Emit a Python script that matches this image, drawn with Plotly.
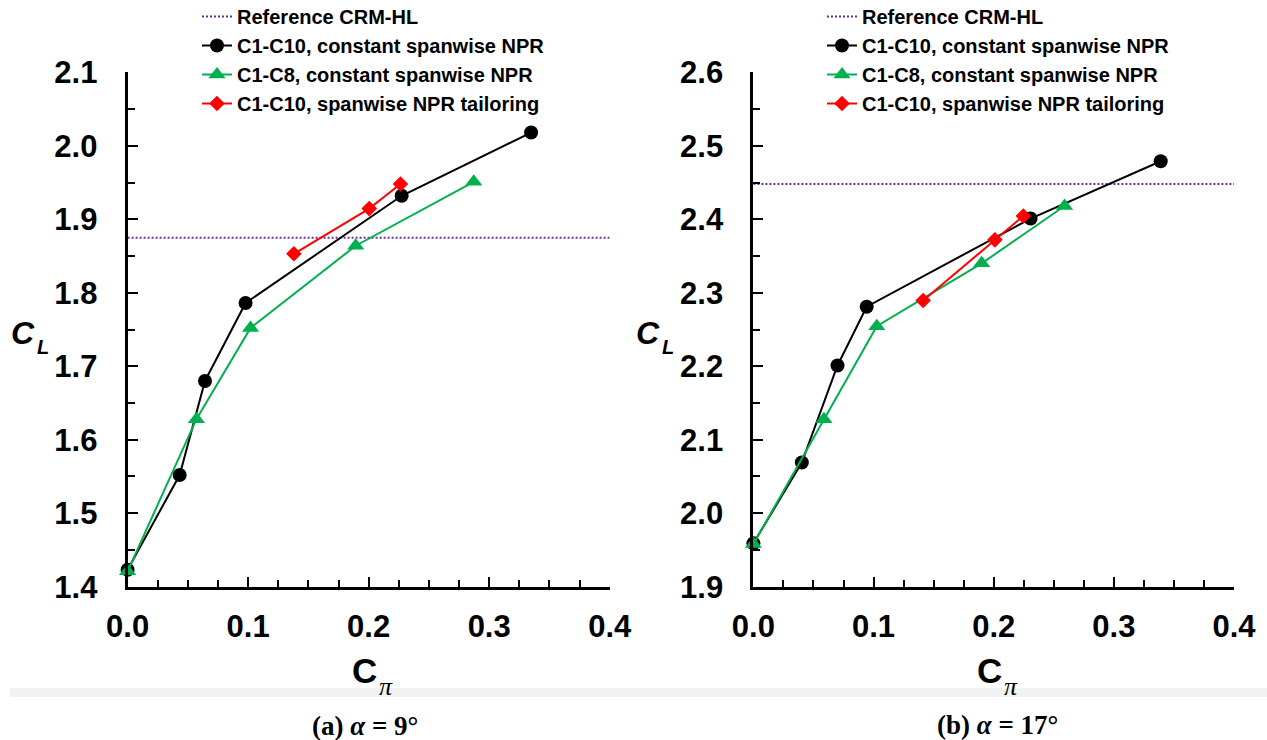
import plotly.graph_objects as go

# ---------------- data ----------------
ref_label = "Reference CRM-HL"
s1_label = "C1-C10, constant spanwise NPR"
s2_label = "C1-C8, constant spanwise NPR"
s3_label = "C1-C10, spanwise NPR tailoring"

x_range = [0.0, 0.4]

# (a) alpha = 9 deg
ref_cl_a = 1.875
c10_x_a = [0.0, 0.0432, 0.0642, 0.0979, 0.2274, 0.3348]
c10_y_a = [1.423, 1.552, 1.680, 1.786, 1.932, 2.018]
c8_x_a = [0.0, 0.0571, 0.102, 0.1893, 0.2872]
c8_y_a = [1.421, 1.628, 1.752, 1.864, 1.951]
tail_x_a = [0.138, 0.2005, 0.2264]
tail_y_a = [1.853, 1.9145, 1.948]
y_range_a = [1.4, 2.1]

# (b) alpha = 17 deg
ref_cl_b = 2.448
c10_x_b = [0.0, 0.0403, 0.070, 0.0943, 0.2307, 0.339]
c10_y_b = [1.959, 2.069, 2.201, 2.281, 2.401, 2.479]
c8_x_b = [0.0, 0.0587, 0.1027, 0.190, 0.259]
c8_y_b = [1.958, 2.128, 2.2545, 2.340, 2.418]
tail_x_b = [0.1413, 0.201, 0.2247]
tail_y_b = [2.2895, 2.372, 2.4045]
y_range_b = [1.9, 2.6]

x_ticks = [0.0, 0.1, 0.2, 0.3, 0.4]

# ---------------- styles ----------------
W, H = 1267, 740
PURPLE = "#7030A0"
GREEN = "#00B050"
RED = "#FF0000"
SANS = "Liberation Sans, Arial, sans-serif"
SERIF = "Liberation Serif, Times New Roman, serif"

fig = go.Figure()


def add_panel(xa, ya, leg, ref, cx, cy, gx, gy, rx, ry):
    fig.add_trace(go.Scatter(
        x=x_range, y=[ref, ref], mode="lines", name=ref_label,
        line=dict(color=PURPLE, width=2, dash="2px,2px"),
        xaxis=xa, yaxis=ya, legend=leg, cliponaxis=False))
    fig.add_trace(go.Scatter(
        x=cx, y=cy, mode="lines+markers", name=s1_label,
        line=dict(color="black", width=2),
        marker=dict(symbol="circle", size=14, color="black"),
        xaxis=xa, yaxis=ya, legend=leg, cliponaxis=False))
    fig.add_trace(go.Scatter(
        x=gx, y=gy, mode="lines+markers", name=s2_label,
        line=dict(color=GREEN, width=2),
        marker=dict(symbol="triangle-up", size=15, color=GREEN),
        xaxis=xa, yaxis=ya, legend=leg, cliponaxis=False))
    fig.add_trace(go.Scatter(
        x=rx, y=ry, mode="lines+markers", name=s3_label,
        line=dict(color=RED, width=2),
        marker=dict(symbol="diamond", size=12, color=RED),
        xaxis=xa, yaxis=ya, legend=leg, cliponaxis=False))


add_panel("x", "y", "legend", ref_cl_a, c10_x_a, c10_y_a, c8_x_a, c8_y_a, tail_x_a, tail_y_a)
add_panel("x2", "y2", "legend2", ref_cl_b, c10_x_b, c10_y_b, c8_x_b, c8_y_b, tail_x_b, tail_y_b)

tickfont = dict(family=SANS, size=31, color="black", weight="bold")


def xaxis_cfg(domain, anchor):
    return dict(
        domain=domain, range=x_range, tickvals=x_ticks, tickformat=".1f", anchor=anchor,
        ticks="inside", ticklen=10, tickwidth=2, tickcolor="black",
        minor=dict(dtick=0.025, tick0=0, ticks="inside", ticklen=7, tickwidth=2, tickcolor="black"),
        showline=True, linewidth=3, linecolor="black", automargin=False,
        showgrid=False, zeroline=False, tickfont=tickfont, ticklabelstandoff=10)


def yaxis_cfg(domain, rng, anchor):
    return dict(
        domain=domain, range=rng, dtick=0.1, tick0=rng[0], tickformat=".1f",
        ticks="inside", ticklen=10, tickwidth=2, tickcolor="black",
        minor=dict(dtick=0.05, tick0=rng[0], ticks="inside", ticklen=7, tickwidth=2, tickcolor="black"),
        showline=True, linewidth=3, linecolor="black", anchor=anchor, automargin=False,
        showgrid=False, zeroline=False, tickfont=tickfont, ticklabelstandoff=21)


ydom = [1 - 586.7 / H, 1 - 72.3 / H]
legfont = dict(family=SANS, size=20, color="black", weight="bold")

fig.update_layout(
    width=W, height=H, margin=dict(l=0, r=0, t=0, b=0, pad=0, autoexpand=False),
    paper_bgcolor="white", plot_bgcolor="white",
    xaxis=xaxis_cfg([127.6 / W, 609.7 / W], "y"),
    yaxis=yaxis_cfg(ydom, y_range_a, "x"),
    xaxis2=xaxis_cfg([753.4 / W, 1234.0 / W], "y2"),
    yaxis2=yaxis_cfg(ydom, y_range_b, "x2"),
    legend=dict(x=197 / W, y=1 + 3 / H, xanchor="left", yanchor="top",
                bgcolor="rgba(0,0,0,0)", font=legfont, itemwidth=30),
    legend2=dict(x=822 / W, y=1 + 3 / H, xanchor="left", yanchor="top",
                 bgcolor="rgba(0,0,0,0)", font=legfont, itemwidth=30),
    showlegend=True,
)

# separator band between plots and captions
fig.add_shape(type="rect", xref="paper", yref="paper",
              x0=10 / W, x1=1, y0=1 - 697 / H, y1=1 - 688 / H,
              fillcolor="#f2f2f2", line=dict(width=0), layer="below")


def ann(text, px, py, size, family, xanchor="center"):
    fig.add_annotation(text=text, x=px / W, y=1 - py / H, xref="paper", yref="paper",
                       showarrow=False, xanchor=xanchor, yanchor="middle", borderpad=0,
                       font=dict(family=family, size=size, color="black"))


# axis titles: main letter + subscript as adjacent texts
for jx in (36, 36 + 625):
    ann("<b><i>C</i></b>", jx, 333, 32, SANS, xanchor="right")
    ann("<b><i>L</i></b>", jx, 347, 20, SANS, xanchor="left")
for jx in (378, 1003):
    ann("<b>C</b>", jx, 670, 35, SANS, xanchor="right")
    ann("<i>π</i>", jx, 686, 26, SERIF, xanchor="left")

# captions
ann("<b>(a) <i>α</i> = 9°</b>", 365, 726, 27, SERIF)
ann("<b>(b) <i>α</i> = 17°</b>", 997, 725, 27, SERIF)

fig.write_html("out.html")
